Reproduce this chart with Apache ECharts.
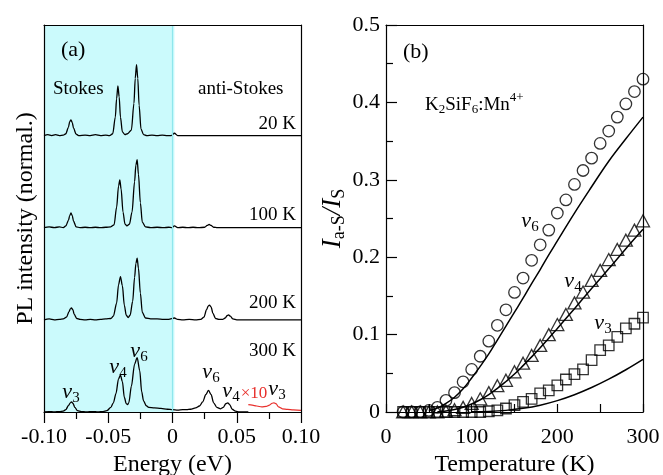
<!DOCTYPE html>
<html><head><meta charset="utf-8">
<script src="https://cdn.jsdelivr.net/npm/echarts/dist/echarts.min.js"></script>
<style>html,body{margin:0;padding:0;background:#fff}#c{width:663px;height:475px}</style>
</head><body><div id="c"></div>
<script>
// ---------- Panel (a): PL spectra (energy eV, normalized intensity relative to each baseline) ----------
const energyTickLabels = ['-0.10', '-0.05', '0', '0.05', '0.10'];
const spectrumLabels = ['20 K', '100 K', '200 K', '300 K'];
const spectrumOffsets = [3, 2, 1, 0];

const spec20K = [[-0.100,0.00],[-0.097,0.01],[-0.094,0.00],[-0.091,0.01],[-0.088,0.00],[-0.085,0.005],
 [-0.083,0.02],[-0.081,0.09],[-0.080,0.15],[-0.079,0.17],[-0.078,0.14],[-0.077,0.08],[-0.075,0.015],[-0.073,0.0],
 [-0.068,0.005],[-0.064,0.0],[-0.060,0.01],[-0.056,0.0],[-0.052,0.005],[-0.049,0.0],
 [-0.0465,0.02],[-0.0445,0.20],[-0.0435,0.40],[-0.0425,0.54],[-0.0415,0.42],[-0.0405,0.20],[-0.039,0.04],[-0.037,0.01],[-0.035,0.02],
 [-0.032,0.06],[-0.030,0.35],[-0.029,0.62],[-0.028,0.77],[-0.027,0.62],[-0.026,0.33],[-0.0245,0.07],[-0.0225,0.01],
 [-0.020,0.0],[-0.016,0.005],[-0.012,0.0],[-0.008,0.005],[-0.004,0.0],[-0.001,0.0],[0.0015,0.025],[0.004,0.0],[0.100,0.0]];

const spec100K = [[-0.100,0.0],[-0.096,0.01],[-0.092,0.0],[-0.088,0.01],[-0.085,0.0],
 [-0.083,0.02],[-0.081,0.08],[-0.080,0.13],[-0.079,0.16],[-0.078,0.13],[-0.077,0.07],[-0.075,0.01],[-0.072,0.0],
 [-0.068,0.005],[-0.064,0.0],[-0.060,0.005],[-0.056,0.0],[-0.052,0.005],[-0.048,0.01],
 [-0.0455,0.03],[-0.0435,0.22],[-0.042,0.45],[-0.041,0.52],[-0.040,0.42],[-0.0385,0.17],[-0.037,0.04],[-0.0355,0.02],[-0.0335,0.04],
 [-0.0315,0.17],[-0.0295,0.50],[-0.0285,0.68],[-0.0275,0.74],[-0.0265,0.58],[-0.025,0.27],[-0.0235,0.06],[-0.021,0.01],
 [-0.017,0.0],[-0.012,0.005],[-0.007,0.0],[-0.003,0.005],[-0.0005,0.0],[0.0015,0.02],[0.004,0.0],[0.008,0.005],[0.012,0.0],[0.016,0.005],[0.020,0.0],
 [0.025,0.005],[0.027,0.025],[0.0285,0.035],[0.030,0.025],[0.032,0.005],[0.035,0.0],[0.100,0.0]];

const spec200K = [[-0.100,0.0],[-0.096,0.01],[-0.092,0.0],[-0.088,0.005],[-0.085,0.01],
 [-0.0825,0.03],[-0.0805,0.09],[-0.0795,0.12],[-0.0787,0.13],[-0.0775,0.11],[-0.0765,0.06],[-0.0745,0.015],[-0.072,0.005],
 [-0.068,0.0],[-0.064,0.005],[-0.060,0.0],[-0.056,0.005],[-0.052,0.01],[-0.048,0.015],
 [-0.046,0.04],[-0.0435,0.18],[-0.042,0.38],[-0.0405,0.47],[-0.039,0.37],[-0.0375,0.16],[-0.036,0.05],[-0.0345,0.025],[-0.033,0.05],
 [-0.031,0.20],[-0.0295,0.46],[-0.0285,0.61],[-0.0275,0.67],[-0.0265,0.56],[-0.025,0.29],[-0.0235,0.08],[-0.021,0.02],
 [-0.017,0.01],[-0.012,0.01],[-0.007,0.005],[-0.003,0.005],[0.0015,0.02],[0.004,0.005],[0.008,0.0],[0.013,0.005],[0.018,0.0],[0.022,0.005],
 [0.0245,0.03],[0.0265,0.11],[0.0278,0.15],[0.0288,0.16],[0.030,0.14],[0.0315,0.07],[0.0335,0.015],[0.036,0.005],[0.039,0.005],
 [0.041,0.02],[0.0425,0.045],[0.0436,0.055],[0.045,0.04],[0.047,0.01],[0.050,0.0],[0.100,0.0]];

const spec300K = [[-0.100,0.0],[-0.096,0.005],[-0.092,0.0],[-0.088,0.005],[-0.085,0.01],
 [-0.083,0.025],[-0.081,0.07],[-0.0795,0.10],[-0.0785,0.11],[-0.0775,0.095],[-0.076,0.05],[-0.074,0.015],[-0.071,0.005],
 [-0.067,0.0],[-0.062,0.005],[-0.058,0.0],[-0.054,0.005],[-0.051,0.015],[-0.048,0.05],[-0.046,0.10],
 [-0.044,0.20],[-0.042,0.36],[-0.0405,0.40],[-0.039,0.33],[-0.0375,0.16],[-0.036,0.09],[-0.035,0.08],[-0.034,0.10],
 [-0.032,0.28],[-0.0295,0.52],[-0.0275,0.59],[-0.0255,0.45],[-0.024,0.22],[-0.0225,0.12],[-0.0205,0.07],[-0.0185,0.05],
 [-0.014,0.045],[-0.009,0.04],[-0.004,0.03],[0.0,0.025],[0.004,0.02],[0.008,0.025],[0.011,0.025],[0.014,0.03],
 [0.018,0.045],[0.021,0.065],[0.0235,0.11],[0.026,0.19],[0.028,0.235],[0.030,0.19],[0.032,0.10],[0.0345,0.05],[0.0375,0.035],
 [0.0395,0.05],[0.0415,0.09],[0.043,0.10],[0.0445,0.08],[0.0465,0.03],[0.049,0.01],[0.052,0.0],[0.059,0.0]];

// anti-Stokes nu3 region at 300 K magnified x10 (red)
const spec300Kx10 = [[0.059,0.08],[0.062,0.075],[0.0655,0.065],[0.0695,0.055],[0.073,0.06],[0.0755,0.075],[0.0775,0.095],
 [0.079,0.10],[0.0805,0.09],[0.0825,0.055],[0.0855,0.035],[0.0895,0.028],[0.094,0.022],[0.100,0.018]];

const stokesRegion = [-0.1, 0.0015];

// ---------- Panel (b): anti-Stokes / Stokes ratio vs temperature ----------
const tempTickLabels = ['0', '100', '200', '300'];
const ratioTickLabels = ['0', '0.1', '0.2', '0.3', '0.4', '0.5'];
const temps = [20,30,40,50,60,70,80,90,100,110,120,130,140,150,160,170,180,190,200,210,220,230,240,250,260,270,280,290,300];
const nu6Ratio = [0,0,0,0.002,0.006,0.015,0.025,0.039,0.055,0.072,0.0915,0.112,0.132,0.1545,0.173,0.196,0.216,0.235,0.257,0.274,0.294,0.312,0.328,0.347,0.363,0.381,0.398,0.414,0.430];
const nu4Ratio = [0,0,0,0,0,0.001,0.003,0.006,0.011,0.017,0.025,0.034,0.041,0.052,0.063,0.073,0.086,0.100,0.113,0.126,0.141,0.155,0.170,0.183,0.197,0.210,0.222,0.235,0.247];
const nu3Ratio = [0,0,0,0,0,0,0,0,0,0,0.001,0.002,0.0045,0.009,0.013,0.017,0.024,0.028,0.0345,0.042,0.049,0.055,0.067,0.080,0.086,0.097,0.108,0.114,0.122];

const fitTemps6 = [50,60,70,80,90,100,110,120,130,140,150,160,170,180,190,200,220,240,260,280,300];
const fit6 = [0.002,0.005,0.011,0.019,0.030,0.044,0.059,0.075,0.093,0.111,0.129,0.147,0.166,0.184,0.203,0.221,0.257,0.291,0.324,0.353,0.381];
const fitTemps4 = [60,70,80,90,100,110,120,130,140,150,160,170,180,190,200,220,240,260,280,300];
const fit4 = [0.0004,0.0014,0.0032,0.0061,0.0103,0.0158,0.0225,0.0304,0.0394,0.049,0.0599,0.0712,0.083,0.0953,0.108,0.1335,0.1595,0.185,0.211,0.236];
const fitTemps3 = [100,120,140,160,180,200,220,240,260,280,300];
const fit3 = [0.0002,0.0007,0.0021,0.0047,0.0088,0.0147,0.0223,0.0316,0.0424,0.0546,0.068];

// ---------- build ----------
const FONT = 'Liberation Serif';
const chart = echarts.init(document.getElementById('c'), null, {renderer: 'canvas'});
const shift = (arr, off) => arr.map(p => [p[0], p[1] + off]);
const pairs = (xs, ys) => xs.map((x, i) => [x, ys[i]]);
const black = '#000';
const tickStyle = {color: black, width: 1.2};
const lblStyle = {fontFamily: FONT, fontSize: 22, color: black};

const spectra = [spec20K, spec100K, spec200K, spec300K];
const specSeries = spectra.map((s, i) => ({
  type: 'line', xAxisIndex: 0, yAxisIndex: 0, data: shift(s, spectrumOffsets[i]),
  showSymbol: false, smooth: 0.3, smoothMonotone: 'x', z: 3,
  lineStyle: {color: black, width: 1.3}
}));

const nu = (n) => '{n|ν}{s|' + n + '}';
const nuRich = {
  n: {fontFamily: FONT, fontStyle: 'italic', fontSize: 22, fill: black, color: black},
  s: {fontFamily: FONT, fontSize: 15, padding: [12, 0, 0, 0], fill: black, color: black}
};
function txt(x, y, text, opts) {
  opts = opts || {};
  return {type: 'text', x: x, y: y, z: 100, silent: true, style: Object.assign({
    text: text, fontFamily: FONT, fontSize: 19, fill: black,
    textAlign: 'left', textVerticalAlign: 'middle'}, opts)};
}
function nuTxt(x, y, n) {
  return {type: 'text', x: x, y: y, z: 100, silent: true,
    style: {text: nu(n), rich: nuRich, textAlign: 'center', textVerticalAlign: 'middle', fontFamily: FONT}};
}
const hollow = {color: 'rgba(255,255,255,0)', borderColor: black, borderWidth: 1.3};

const option = {
  animation: false,
  backgroundColor: '#fff',
  grid: [
    {left: 44, top: 25, width: 257, height: 387, containLabel: false, outerBoundsMode: 'none'},
    {left: 386, top: 25, width: 257, height: 387, containLabel: false, outerBoundsMode: 'none'}
  ],
  xAxis: [
    {gridIndex: 0, type: 'value', min: -0.1, max: 0.1, interval: 0.05, position: 'bottom', z: 10,
     axisLine: {show: true, onZero: false, lineStyle: tickStyle},
     axisTick: {show: true, inside: false, length: 11, lineStyle: tickStyle},
     minorTick: {show: true, splitNumber: 2, length: 7, lineStyle: tickStyle},
     splitLine: {show: false}, minorSplitLine: {show: false},
     axisLabel: Object.assign({margin: 14, showMinLabel: true, showMaxLabel: true, hideOverlap: false,
       formatter: v => energyTickLabels[Math.round((v + 0.1) / 0.05)]}, lblStyle),
     name: 'Energy (eV)', nameLocation: 'middle', nameGap: 38,
     nameTextStyle: {fontFamily: FONT, fontSize: 24, color: black}},
    {gridIndex: 1, type: 'value', min: 0, max: 300, interval: 100, position: 'bottom', z: 10,
     axisLine: {show: true, onZero: false, lineStyle: tickStyle},
     axisTick: {show: true, inside: true, length: 8, lineStyle: tickStyle},
     minorTick: {show: true, splitNumber: 2, length: 8, lineStyle: tickStyle},
     splitLine: {show: false}, minorSplitLine: {show: false},
     axisLabel: Object.assign({margin: 14, showMinLabel: true, showMaxLabel: true, hideOverlap: false,
       formatter: v => tempTickLabels[Math.round(v / 100)]}, lblStyle),
     name: 'Temperature (K)', nameLocation: 'middle', nameGap: 38,
     nameTextStyle: {fontFamily: FONT, fontSize: 24, color: black}},
    {gridIndex: 0, type: 'value', min: -0.1, max: 0.1, position: 'top', z: 10,
     axisLine: {show: true, onZero: false, lineStyle: tickStyle}, axisTick: {show: false},
     axisLabel: {show: false}, splitLine: {show: false}},
    {gridIndex: 1, type: 'value', min: 0, max: 300, position: 'top', z: 10,
     axisLine: {show: true, onZero: false, lineStyle: tickStyle}, axisTick: {show: false},
     axisLabel: {show: false}, splitLine: {show: false}}
  ],
  yAxis: [
    {gridIndex: 0, type: 'value', min: 0, max: 4.2, position: 'left', z: 10,
     axisLine: {show: true, onZero: false, lineStyle: tickStyle}, axisTick: {show: false},
     axisLabel: {show: false}, splitLine: {show: false},
     name: 'PL intensity (normal.)', nameLocation: 'middle', nameGap: 6,
     nameTextStyle: {fontFamily: FONT, fontSize: 24, color: black}},
    {gridIndex: 1, type: 'value', min: 0, max: 0.5, interval: 0.1, position: 'left', z: 10,
     axisLine: {show: true, onZero: false, lineStyle: tickStyle},
     axisTick: {show: true, inside: true, length: 11, lineStyle: tickStyle},
     minorTick: {show: true, splitNumber: 2, length: 7, lineStyle: tickStyle},
     splitLine: {show: false}, minorSplitLine: {show: false},
     axisLabel: Object.assign({margin: 6, showMinLabel: true, showMaxLabel: true, hideOverlap: false,
       formatter: v => ratioTickLabels[Math.round(v / 0.1)]}, lblStyle),
     name: '{i|I}{s|a-S}{i|/I}{s|S}', nameLocation: 'middle', nameGap: 22,
     nameTextStyle: {fontFamily: FONT, fontSize: 27, color: black, rich: {
       i: {fontFamily: FONT, fontStyle: 'italic', fontSize: 27, color: black},
       s: {fontFamily: FONT, fontSize: 18, color: black, padding: [13, 0, 0, 0]}
     }}},
    {gridIndex: 0, type: 'value', min: 0, max: 4.2, position: 'right', z: 10,
     axisLine: {show: true, onZero: false, lineStyle: tickStyle}, axisTick: {show: false},
     axisLabel: {show: false}, splitLine: {show: false}},
    {gridIndex: 1, type: 'value', min: 0, max: 0.5, position: 'right', z: 10,
     axisLine: {show: true, onZero: false, lineStyle: tickStyle}, axisTick: {show: false},
     axisLabel: {show: false}, splitLine: {show: false}}
  ],
  series: [
    {type: 'line', xAxisIndex: 0, yAxisIndex: 0, data: [], z: 1, silent: true,
     markArea: {silent: true, itemStyle: {color: '#cbfafc'},
       data: [[{xAxis: stokesRegion[0]}, {xAxis: stokesRegion[1]}]]},
     markLine: {silent: true, symbol: ['none', 'none'], label: {show: false},
       lineStyle: {color: '#8fe6ec', width: 1.2, type: 'solid'},
       data: [{xAxis: stokesRegion[1]}]}},
    ...specSeries,
    {type: 'line', xAxisIndex: 0, yAxisIndex: 0, data: shift(spec300Kx10, spectrumOffsets[3]),
     showSymbol: false, smooth: 0.3, smoothMonotone: 'x', z: 3, lineStyle: {color: '#e8302c', width: 1.2}},
    // panel b fits
    {type: 'line', xAxisIndex: 1, yAxisIndex: 1, data: pairs(fitTemps6, fit6), showSymbol: false, smooth: 0.4, z: 3,
     lineStyle: {color: black, width: 1.5}},
    {type: 'line', xAxisIndex: 1, yAxisIndex: 1, data: pairs(fitTemps4, fit4), showSymbol: false, smooth: 0.4, z: 3,
     lineStyle: {color: black, width: 1.5}},
    {type: 'line', xAxisIndex: 1, yAxisIndex: 1, data: pairs(fitTemps3, fit3), showSymbol: false, smooth: 0.4, z: 3,
     lineStyle: {color: black, width: 1.5}},
    // panel b data
    {type: 'scatter', xAxisIndex: 1, yAxisIndex: 1, data: pairs(temps, nu6Ratio), symbol: 'circle', symbolSize: 11.5, clip: false, z: 4,
     itemStyle: hollow},
    {type: 'scatter', xAxisIndex: 1, yAxisIndex: 1, data: pairs(temps, nu4Ratio), symbol: 'triangle', symbolSize: [13, 12], clip: false, z: 4,
     itemStyle: hollow},
    {type: 'scatter', xAxisIndex: 1, yAxisIndex: 1, data: pairs(temps, nu3Ratio), symbol: 'rect', symbolSize: 10.5, clip: false, z: 4,
     itemStyle: hollow}
  ],
  graphic: [
    txt(61, 50, '(a)', {fontSize: 22}),
    txt(53, 89, 'Stokes'),
    txt(198, 89, 'anti-Stokes'),
    txt(296, 124, spectrumLabels[0], {textAlign: 'right'}),
    txt(296, 215, spectrumLabels[1], {textAlign: 'right'}),
    txt(296, 303, spectrumLabels[2], {textAlign: 'right'}),
    txt(296, 351, spectrumLabels[3], {textAlign: 'right'}),
    nuTxt(71, 392, 3), nuTxt(118, 367, 4), nuTxt(139, 351, 6),
    nuTxt(211, 372, 6), nuTxt(231, 391, 4), nuTxt(277, 389, 3),
    txt(254, 394, '×10', {fill: '#e8302c', fontSize: 17, textAlign: 'center'}),
    txt(403, 52, '(b)', {fontSize: 22}),
    {type: 'text', x: 425, y: 105, z: 100, silent: true, style: {
      text: '{m|K}{s|2}{m|SiF}{s|6}{m|:Mn}{p|4+}', textAlign: 'left', textVerticalAlign: 'middle', fontFamily: FONT,
      rich: {m: {fontFamily: FONT, fontSize: 19, fill: black},
             s: {fontFamily: FONT, fontSize: 13, fill: black, padding: [10, 0, 0, 0]},
             p: {fontFamily: FONT, fontSize: 13, fill: black, padding: [0, 0, 14, 0]}}}},
    nuTxt(530, 221, 6), nuTxt(573, 281, 4), nuTxt(603, 323, 3)
  ]
};
chart.setOption(option);
</script>
</body></html>
